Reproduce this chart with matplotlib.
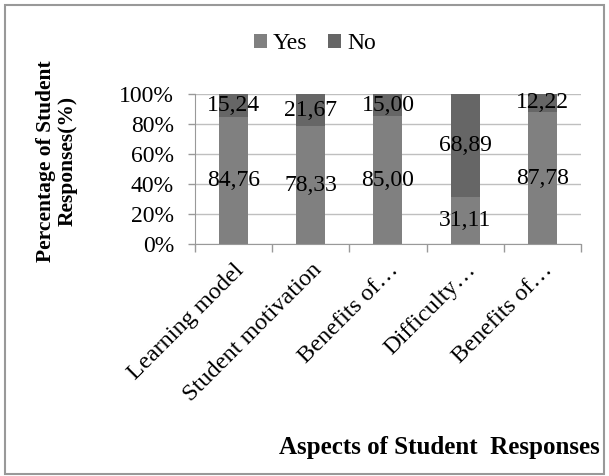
import matplotlib.pyplot as plt
from matplotlib.patches import Rectangle
import matplotlib.transforms as mtransforms
import numpy as np

# Data
categories = ['Learning model', 'Student motivation', 'Benefits of…', 'Difficulty…', 'Benefits of…']
yes_vals = [84.76, 78.33, 85.00, 31.11, 87.78]
no_vals = [15.24, 21.67, 15.00, 68.89, 12.22]
yes_labels = ['84,76', '78,33', '85,00', '31,11', '87,78']
no_labels = ['15,24', '21,67', '15,00', '68,89', '12,22']
y_ticks = [0, 20, 40, 60, 80, 100]

plt.rcParams['font.family'] = ['Liberation Serif', 'DejaVu Serif']

fig = plt.figure(figsize=(6.09, 4.76), dpi=100)
ax = fig.add_axes([0.320, 0.487, 0.634, 0.316])

x = np.arange(len(categories))
w = 0.374
ax.bar(x, yes_vals, w, color='#808080', label='Yes', zorder=2)
ax.bar(x, no_vals, w, bottom=yes_vals, color='#666666', label='No', zorder=2)

# data labels centred in each segment
for i in range(len(categories)):
    ax.text(x[i], yes_vals[i] / 2, yes_labels[i], ha='center', va='center', fontsize=17, zorder=3)
    ax.text(x[i], yes_vals[i] + no_vals[i] / 2, no_labels[i], ha='center', va='center', fontsize=17, zorder=3)

ax.set_xlim(-0.5, len(categories) - 0.5)
ax.set_ylim(0, 100)
ax.set_yticks(y_ticks)
ax.set_yticklabels([f'{t}%' for t in y_ticks], fontsize=17)
ax.yaxis.grid(True, color='#bfbfbf', linewidth=1, zorder=0)
ax.tick_params(axis='y', length=5, width=1, color='#999999', pad=10)

ax.set_xticks(x)
ax.set_xticklabels(categories, rotation=45, ha='right', rotation_mode='anchor', fontsize=17.5)
# nudge the rotated labels a little to the right, like the original
offset = mtransforms.ScaledTranslation(5 / 72, -2 / 72, fig.dpi_scale_trans)
for lbl in ax.get_xticklabels():
    lbl.set_transform(lbl.get_transform() + offset)
ax.set_xticks(np.arange(-0.5, len(categories)), minor=True)
ax.tick_params(axis='x', which='major', length=0, pad=11)
ax.tick_params(axis='x', which='minor', length=6, width=1, color='#999999')

for s in ['top', 'right']:
    ax.spines[s].set_visible(False)
ax.spines['bottom'].set_color('#999999')
ax.spines['left'].set_color('#999999')

fig.text(0.094, 0.662, 'Percentage of Student\nResponses(%)', rotation=90, ha='center', va='center',
         multialignment='center', fontsize=15.5, fontweight='bold', linespacing=1.1)

fig.text(0.985, 0.059, 'Aspects of Student  Responses', ha='right', va='center',
         fontsize=18, fontweight='bold')

fig.legend(loc='center', bbox_to_anchor=(0.517, 0.908), ncol=2, frameon=False, fontsize=17,
           handlelength=0.55, handleheight=0.55, handletextpad=0.25, columnspacing=0.9)

# outer chart border
fig.patches.append(Rectangle((0.008, 0.004), 0.984, 0.985, transform=fig.transFigure,
                             fill=False, edgecolor='#999999', linewidth=1.5))

fig.savefig('out.png', dpi=100)
